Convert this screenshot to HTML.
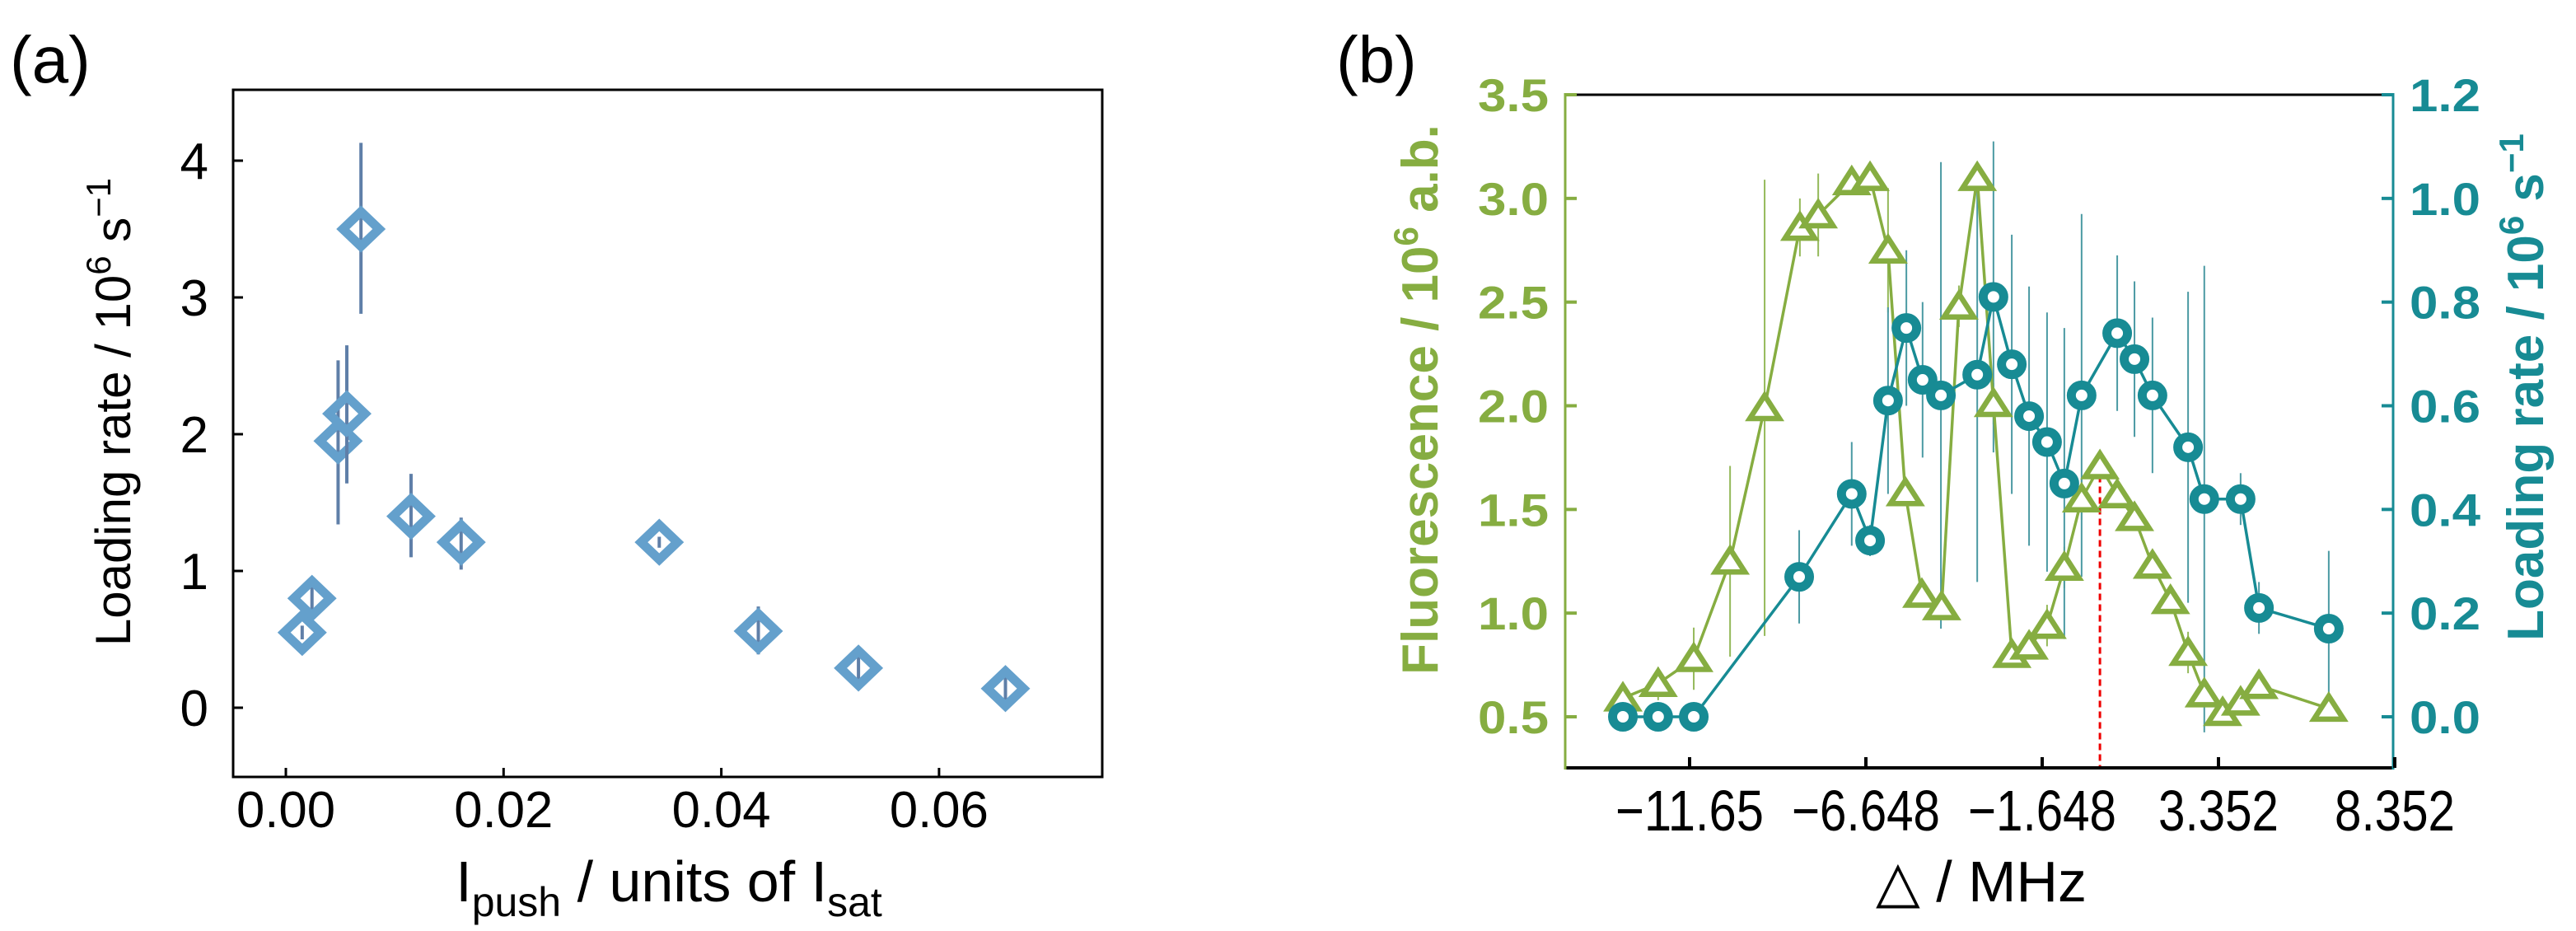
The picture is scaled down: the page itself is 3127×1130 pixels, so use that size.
<!DOCTYPE html>
<html><head><meta charset="utf-8"><style>
html,body{margin:0;padding:0;background:#fff;overflow:hidden;}
svg{display:block;}
.s{font-family:"Liberation Sans","DejaVu Sans",sans-serif;}
</style></head><body>
<svg id="fig" width="3127" height="1130" viewBox="0 0 3127 1130" xmlns="http://www.w3.org/2000/svg">
<text x="12" y="100" class="s" font-size="80">(a)</text>
<text x="1622" y="100" class="s" font-size="80">(b)</text>
<g id="pa"></g>
<g id="pb"></g>
</svg>
<script>
// Panel (a) data
const aX = [0.0015,0.0024,0.0048,0.0056,0.0069,0.0115,0.0161,0.0343,0.0434,0.0526,0.0661];
const aY = [0.55,0.80,1.95,2.15,3.50,1.40,1.21,1.21,0.56,0.29,0.14];
const aErrLo = [0.05,0.12,0.61,0.51,0.62,0.30,0.20,0.04,0.17,0.14,0.13];
const aErrHi = [0.05,0.13,0.59,0.50,0.63,0.31,0.18,0.04,0.18,0.13,0.15];
const aXTicks = ["0.00","0.02","0.04","0.06"];
const aXTickVals = [0,0.02,0.04,0.06];
const aYTicks = ["0","1","2","3","4"];
const aYTickVals = [0,1,2,3,4];
// Panel (b) data
const bX = [-13.54,-12.54,-11.53,-10.5,-9.52,-8.52,-8.0,-7.05,-6.53,-6.02,-5.53,-5.06,-4.50,-4.01,-3.49,-3.03,-2.51,-2.02,-1.51,-1.02,-0.53,-0.01,0.48,0.97,1.48,1.99,2.49,2.95,3.47,3.98,4.50,6.48];
const bFluor = [0.59,0.66,0.78,1.25,1.99,2.86,2.92,3.08,3.10,2.75,1.58,1.09,1.03,2.48,3.10,2.01,0.80,0.84,0.94,1.22,1.55,1.71,1.57,1.46,1.23,1.06,0.81,0.61,0.52,0.57,0.65,0.54];
const bFluorErr = [0.05,0.08,0.15,0.46,1.1,0.14,0.2,0.05,0.05,0.3,0.05,0.05,0.05,0.1,0.05,0.1,0.05,0.05,0.1,0.1,0.1,0.05,0.05,0.05,0.05,0.05,0.1,0.05,0.05,0.05,0.05,0.05];
const bLX = [-13.54,-12.54,-11.53,-8.54,-7.05,-6.53,-6.02,-5.50,-5.04,-4.52,-3.49,-3.03,-2.51,-2.02,-1.51,-1.02,-0.53,0.48,0.97,1.48,2.49,2.95,3.98,4.50,6.48];
const bLoad = [0,0,0,0.27,0.43,0.34,0.61,0.75,0.65,0.62,0.66,0.81,0.68,0.58,0.53,0.45,0.62,0.74,0.69,0.62,0.52,0.42,0.42,0.21,0.17];
const bLoadErr = [0,0,0,0.09,0.1,0.03,0.18,0.15,0.15,0.45,0.4,0.3,0.25,0.25,0.25,0.3,0.35,0.15,0.15,0.15,0.3,0.45,0.05,0.05,0.15];
const bXTicks = ["\u221211.65","\u22126.648","\u22121.648","3.352","8.352"];
const bXTickVals = [-11.648,-6.648,-1.648,3.352,8.352];
const bLTicks = ["0.5","1.0","1.5","2.0","2.5","3.0","3.5"];
const bLTickVals = [0.5,1.0,1.5,2.0,2.5,3.0,3.5];
const bRTicks = ["0.0","0.2","0.4","0.6","0.8","1.0","1.2"];
const bRTickVals = [0,0.2,0.4,0.6,0.8,1.0,1.2];

const NS="http://www.w3.org/2000/svg";
function mk(parent,tag,attrs){const e=document.createElementNS(NS,tag);for(const k in attrs)e.setAttribute(k,attrs[k]);parent.appendChild(e);return e;}
function lin(d0,d1,r0,r1){return v=>r0+(v-d0)*(r1-r0)/(d1-d0);}

// ---- Panel a ----
const pa=document.getElementById('pa');
const ax=lin(0,0.02,347,611.3), ay=lin(0,1,859,693);
let e;
e=mk(pa,'rect',{x:283,y:109,width:1055,height:834,fill:'none',stroke:'#000','stroke-width':3});


aXTickVals.forEach((v,i)=>{
  e=mk(pa,'line',{x1:ax(v),x2:ax(v),y1:943,y2:932,stroke:'#000','stroke-width':3});
  
  
  e=mk(pa,'text',{x:ax(v),y:1004,'text-anchor':'middle','font-size':62,class:'s',textLength:120,lengthAdjust:'spacingAndGlyphs'});e.textContent=aXTicks[i];
  
  
});
aYTickVals.forEach((v,i)=>{
  e=mk(pa,'line',{x1:283,x2:295,y1:ay(v),y2:ay(v),stroke:'#000','stroke-width':3});
  
  
  e=mk(pa,'text',{x:253,y:ay(v)+22,'text-anchor':'end','font-size':62,class:'s'});e.textContent=aYTicks[i];
  
  
});
aX.forEach((x,i)=>{
  const cx=ax(x), cy=ay(aY[i]);
  e=mk(pa,'line',{x1:cx,x2:cx,y1:ay(aY[i]+aErrHi[i]),y2:ay(aY[i]-aErrLo[i]),stroke:'#5f7fa8','stroke-width':4});
  
  
  e=mk(pa,'path',{d:`M${cx} ${cy-21}L${cx+22} ${cy}L${cx} ${cy+21}L${cx-22} ${cy}Z`,fill:'none',stroke:'#64a0cc','stroke-width':11});
  
  
});
e=mk(pa,'text',{transform:'translate(158,500) rotate(-90)','text-anchor':'middle','font-size':60,class:'s'});
e.innerHTML='Loading rate / 10<tspan dy="-24" font-size="42">6</tspan><tspan dy="24"> s</tspan><tspan dy="-24" font-size="42">\u22121</tspan>';


e=mk(pa,'text',{x:812,y:1094,'text-anchor':'middle','font-size':70,class:'s'});
e.innerHTML='I<tspan dy="18" font-size="50">push</tspan><tspan dy="-18"> / units of I</tspan><tspan dy="18" font-size="50">sat</tspan>';



// ---- Panel b ----
const pb=document.getElementById('pb');
const GR='#86ad41', TL='#178b94';
const bx=lin(-1.648,3.352,2479,2693), byL=lin(0.5,3.5,870,115), byR=lin(0,1.2,870,115);
e=mk(pb,'line',{x1:1900,x2:2905,y1:115,y2:115,stroke:'#000','stroke-width':3});


e=mk(pb,'line',{x1:1900,x2:2905,y1:932,y2:932,stroke:'#000','stroke-width':4});


e=mk(pb,'line',{x1:1900,x2:1900,y1:113,y2:934,stroke:GR,'stroke-width':3});


e=mk(pb,'line',{x1:2905,x2:2905,y1:113,y2:934,stroke:TL,'stroke-width':3});


bXTickVals.forEach((v,i)=>{
  e=mk(pb,'line',{x1:bx(v),x2:bx(v),y1:932,y2:919,stroke:'#000','stroke-width':4});
  
  
  e=mk(pb,'text',{x:bx(v),y:1008,'text-anchor':'middle','font-size':70,class:'s',textLength:(i<3?180:146),lengthAdjust:'spacingAndGlyphs'});e.textContent=bXTicks[i];
  
  
});
bLTickVals.forEach((v,i)=>{
  e=mk(pb,'line',{x1:1900,x2:1914,y1:byL(v),y2:byL(v),stroke:GR,'stroke-width':4});
  
  
  e=mk(pb,'text',{x:1880,y:byL(v)+20,'text-anchor':'end','font-size':56,'font-weight':'bold',fill:GR,class:'s',textLength:86,lengthAdjust:'spacingAndGlyphs'});e.textContent=bLTicks[i];
  
  
});
bRTickVals.forEach((v,i)=>{
  e=mk(pb,'line',{x1:2891,x2:2905,y1:byR(v),y2:byR(v),stroke:TL,'stroke-width':4});
  
  
  e=mk(pb,'text',{x:2925,y:byR(v)+20,'text-anchor':'start','font-size':56,'font-weight':'bold',fill:TL,class:'s',textLength:86,lengthAdjust:'spacingAndGlyphs'});e.textContent=bRTicks[i];
  
  
});
bX.forEach((x,i)=>{
  e=mk(pb,'line',{x1:bx(x),x2:bx(x),y1:byL(bFluor[i]+bFluorErr[i]),y2:byL(bFluor[i]-bFluorErr[i]),stroke:'#94b95a','stroke-width':2});
  
  
});
bLX.forEach((x,i)=>{
  e=mk(pb,'line',{x1:bx(x),x2:bx(x),y1:byR(bLoad[i]+bLoadErr[i]),y2:byR(bLoad[i]-bLoadErr[i]),stroke:'#4b9aa3','stroke-width':2});
  
  
});
e=mk(pb,'polyline',{points:bX.map((x,i)=>bx(x)+','+byL(bFluor[i])).join(' '),fill:'none',stroke:GR,'stroke-width':3.5});


e=mk(pb,'polyline',{points:bLX.map((x,i)=>bx(x)+','+byR(bLoad[i])).join(' '),fill:'none',stroke:TL,'stroke-width':3.5});


e=mk(pb,'line',{x1:bx(-0.01),x2:bx(-0.01),y1:byL(1.71)+12,y2:930,stroke:'#e00','stroke-width':3,'stroke-dasharray':'8,5'});


bX.forEach((x,i)=>{
  const cx=bx(x), cy=byL(bFluor[i]);
  e=mk(pb,'path',{d:`M${cx} ${cy-15}L${cx+18} ${cy+13}L${cx-18} ${cy+13}Z`,fill:'#fff',stroke:GR,'stroke-width':6.5,'stroke-linejoin':'miter'});
  
  
});
bLX.forEach((x,i)=>{
  e=mk(pb,'circle',{cx:bx(x),cy:byR(bLoad[i]),r:12.5,fill:'#fff',stroke:TL,'stroke-width':11});
  
  
});
e=mk(pb,'text',{transform:'translate(1745,485) rotate(-90)','text-anchor':'middle','font-size':62,'font-weight':'bold',fill:GR,class:'s'});
e.innerHTML='Fluorescence / 10<tspan dy="-24" font-size="42">6</tspan><tspan dy="24"> a.b.</tspan>';


e=mk(pb,'text',{transform:'translate(3087,470) rotate(-90)','text-anchor':'middle','font-size':62,'font-weight':'bold',fill:TL,class:'s'});
e.innerHTML='Loading rate / 10<tspan dy="-24" font-size="42">6</tspan><tspan dy="24"> s</tspan><tspan dy="-24" font-size="42">\u22121</tspan>';


e=mk(pb,'text',{x:2405,y:1094,'text-anchor':'middle','font-size':70,class:'s'});
e.textContent='\u25B3 / MHz';


</script>
</body></html>
